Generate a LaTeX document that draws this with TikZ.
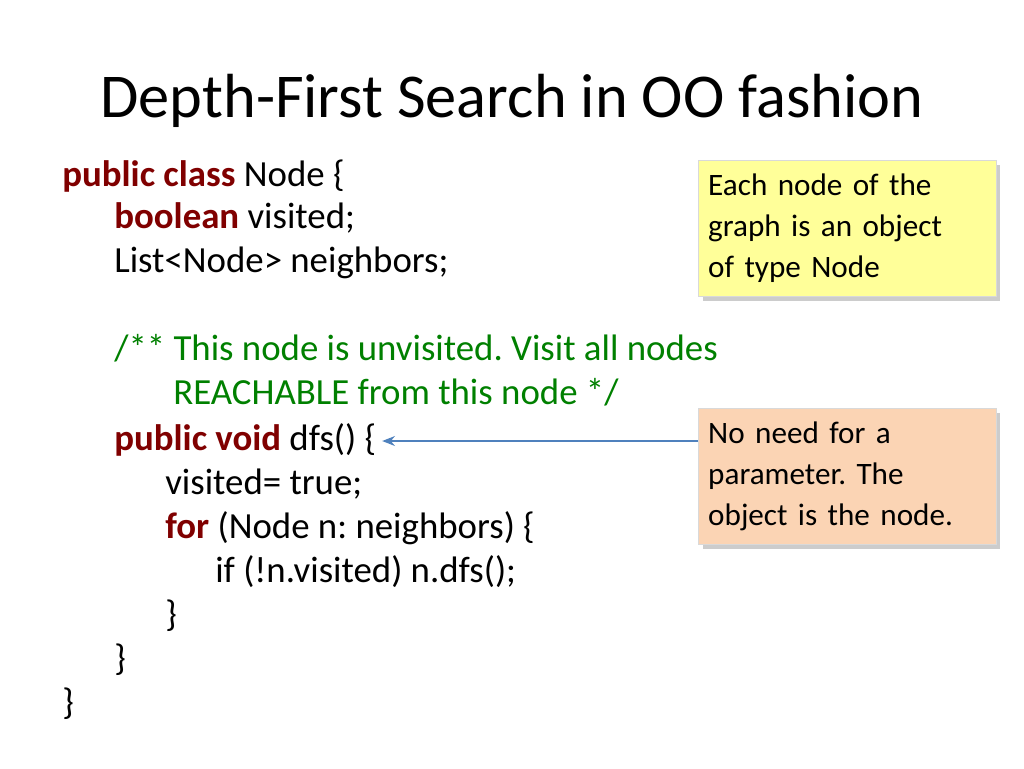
\documentclass[tikz,border=0pt]{standalone}
\usepackage{fontspec}
\setmainfont{Carlito}
\frenchspacing
\usetikzlibrary{positioning, shadows, arrows.meta}
\definecolor{kwred}{RGB}{128,0,0}
\definecolor{cmtgreen}{RGB}{0,128,0}
\definecolor{notey}{RGB}{255,255,153}
\definecolor{noteo}{RGB}{251,212,180}
\definecolor{arrblue}{RGB}{79,129,189}
\tikzstyle{code} = [anchor=base west, inner sep=0pt, font=\fontsize{26}{31}\selectfont]
\tikzstyle{note} = [anchor=north west, minimum width=210pt, minimum height=96pt, text width=196pt, inner sep=7pt, align=left, draw=black!15, drop shadow={shadow xshift=3pt, shadow yshift=-3pt, fill=black!40}, font=\fontsize{22}{29}\selectfont]
\tikzstyle{arrow} = [draw=arrblue, line width=1.2pt, -{Stealth[length=9pt,width=7pt]}]
\newcommand{\kw}[1]{\textbf{\textcolor{kwred}{#1}}}
\begin{document}
\begin{tikzpicture}[x=0.7058pt, y=-0.7058pt]
        \useasboundingbox (0,0) rectangle (1024,768);
        \node (title) [anchor=base, font=\fontsize{44}{50}\selectfont] at (512,117) {Depth-First Search in OO fashion};
        \node (l1) [code] at (62,186) {\kw{public class} Node \{};
        \node (l2) [code] at (114,228) {\kw{boolean} visited;};
        \node (l3) [code] at (114,272) {List<Node> neighbors;};
        \node (l4) [code, text=cmtgreen] at (114,360) {/** This node is unvisited. Visit all nodes};
        \node (l5) [code, text=cmtgreen] at (173,404) {REACHABLE from this node */};
        \node (l6) [code] at (114,450) {\kw{public void} dfs() \{};
        \node (l7) [code] at (165,494) {visited= true;};
        \node (l8) [code] at (165,538) {\kw{for} (Node n: neighbors) \{};
        \node (l9) [code] at (215,582) {if (!n.visited) n.dfs();};
        \node (l10) [code] at (165,626) {\}};
        \node (l11) [code] at (114,670) {\}};
        \node (l12) [code] at (62,714) {\}};
        \node (note1) [note, fill=notey] at (698,160) {Each node of the\\graph is an object\\of type Node};
        \node (note2) [note, fill=noteo] at (698,408) {No need for a\\parameter. The\\object is the node.};
        \coordinate (tail) at (note2.west |- 0,441);
        \coordinate (head) at ([xshift=4pt]l6.east |- 0,441);
        \draw [arrow] (tail) -- (head);
\end{tikzpicture}
\end{document}
